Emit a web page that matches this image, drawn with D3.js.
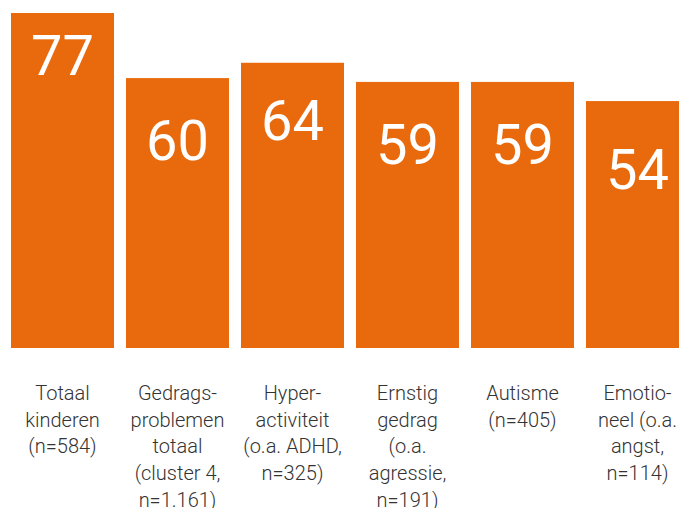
<!DOCTYPE html>
<html>
    <head>
        <meta charset="utf-8">
        <script src="https://cdn.jsdelivr.net/npm/d3@7"></script>
        <style>
            body { margin: 0; background: #fff; }
        </style>
        <script>
            var categories = ["Totaal kinderen", "Gedragsproblemen totaal", "Hyperactiviteit", "Ernstig gedrag", "Autisme", "Emotioneel"];
            var values = [77, 60, 64, 59, 59, 54];
            var labelLines = [
                ["Totaal", "kinderen", "(n=584)"],
                ["Gedrags-", "problemen", "totaal", "(cluster 4,", "n=1.161)"],
                ["Hyper-", "activiteit", "(o.a. ADHD,", "n=325)"],
                ["Ernstig", "gedrag", "(o.a.", "agressie,", "n=191)"],
                ["Autisme", "(n=405)"],
                ["Emotio-", "neel (o.a.", "angst,", "n=114)"]
            ];

            function makeSVG() {
                var svg = d3.select("#fig");
                var ds = categories.map((c, i) => ({ cat: c, val: values[i], lines: labelLines[i] }));

                var xSc = d3.scaleBand().domain(categories).range([11, 689]).paddingInner(12 / 115).paddingOuter(0);
                var ySc = d3.scaleLinear().domain([-10.5, 77]).range([348, 13]);

                // bars
                svg.selectAll("rect.bar")
                   .data(ds)
                   .enter()
                   .append("rect")
                   .attr("class", "bar")
                   .attr("x", d => xSc(d.cat))
                   .attr("y", d => ySc(d.val))
                   .attr("width", xSc.bandwidth())
                   .attr("height", d => ySc(-10.5) - ySc(d.val))
                   .attr("fill", "#e96a0d");

                // value labels inside the bars
                svg.selectAll("text.val")
                   .data(ds)
                   .enter()
                   .append("text")
                   .attr("class", "val")
                   .attr("x", d => xSc(d.cat) + xSc.bandwidth() / 2)
                   .attr("y", d => 1.3 * ySc(d.val) + 58)
                   .attr("text-anchor", "middle")
                   .attr("fill", "#fff")
                   .style("font-family", "Roboto, sans-serif")
                   .style("font-size", "56px")
                   .text(d => d.val);

                // category labels below
                var lbl = svg.selectAll("text.cat")
                             .data(ds)
                             .enter()
                             .append("text")
                             .attr("class", "cat")
                             .attr("text-anchor", "middle")
                             .attr("fill", "#333")
                             .style("font-family", "Roboto, sans-serif")
                             .style("font-weight", 300)
                             .style("font-size", "20px");

                lbl.selectAll("tspan")
                   .data(d => d.lines.map(l => ({ t: l, x: xSc(d.cat) + xSc.bandwidth() / 2 })))
                   .enter()
                   .append("tspan")
                   .attr("x", d => d.x)
                   .attr("y", (d, i) => 400 + i * 26.7)
                   .text(d => d.t);
            }
        </script>
    </head>
    <body onload="makeSVG()">
        <svg id="fig" width="679" height="508"></svg>
    </body>
</html>
